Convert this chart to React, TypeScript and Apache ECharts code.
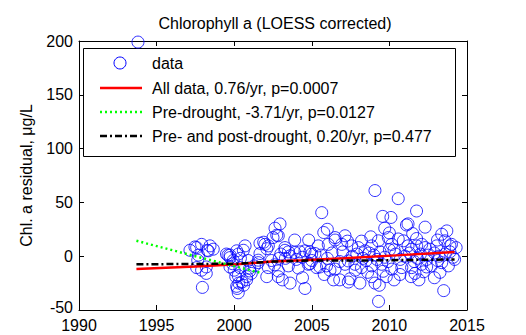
import React, { useEffect, useRef } from "react";
import * as echarts from "echarts";

const dataYears = [
  1993.8, 1997.15, 1997.47, 1997.58, 1997.65, 1997.7, 1997.9, 1997.9, 1997.95, 1997.58,
  1998.2, 1998.2, 1998.27, 1998.44, 1998.65, 1998.33, 1999.5, 1999.73, 1999.73, 1999.94,
  1999.6, 1999.73, 2000.16, 2000.0, 2000.1, 2000.26, 2000.16, 2000.26, 2000.3, 2000.2,
  2000.5, 2000.6, 2000.8, 2000.27, 2000.37, 2000.59, 2000.7, 2000.8, 2001.0, 2001.1,
  2001.0, 2001.55, 2001.55, 2001.66, 2001.66, 2001.9, 2001.98, 2002.1, 2002.1, 2002.2,
  2002.2, 2002.4, 2002.5, 2002.63, 2002.74, 2002.84, 2002.84, 2002.84, 2002.9, 2002.95,
  2003.27, 2003.27, 2003.3, 2003.49, 2003.49, 2003.6, 2003.6, 2003.9, 2003.9, 2004.13,
  2004.24, 2004.56, 2004.56, 2004.77, 2004.88, 2004.88, 2004.99, 2005.2, 2005.31, 2005.42,
  2005.52, 2005.64, 2005.77, 2005.95, 2006.06, 2006.17, 2006.4, 2006.5, 2006.5, 2006.5,
  2006.8, 2006.93, 2007.14, 2007.14, 2007.35, 2007.35, 2007.46, 2007.57, 2007.6, 2007.78,
  2008.0, 2008.1, 2008.2, 2008.3, 2008.43, 2008.8, 2008.86, 2008.86, 2008.86, 2009.0,
  2009.07, 2009.07, 2009.29, 2009.3, 2009.35, 2009.5, 2009.57, 2009.7, 2009.8, 2009.93,
  2010.0, 2010.1, 2010.15, 2010.15, 2010.4, 2010.57, 2010.57, 2010.68, 2010.8, 2010.9,
  2011.0, 2011.1, 2011.2, 2011.2, 2011.4, 2011.43, 2011.43, 2011.65, 2011.75, 2011.75,
  2011.76, 2011.8, 2012.08, 2012.08, 2012.2, 2012.3, 2012.5, 2012.6, 2012.7, 2013.05,
  2013.2, 2013.26, 2013.37, 2013.37, 2013.5, 2013.58, 2013.7, 2013.8, 2013.9, 2014.0,
  2014.1, 2014.3, 2004.0, 2004.4, 2005.0, 2005.6, 2006.0, 2006.3, 2006.8, 2007.0,
  2007.9, 2008.5, 2008.7, 2009.2, 2009.4, 2009.9, 2010.3, 2010.7, 2011.3, 2011.6,
  2012.0, 2012.4, 2012.9, 2013.1, 2013.6, 2014.2, 2003.0, 2002.6, 2001.3, 2000.9,
  1999.9, 2000.4, 2008.6, 2009.6, 2010.3, 2011.9, 2012.9, 2005.8, 2003.1, 2004.4,
  2007.8, 2012.4, 2013.9, 2010.0, 2011.5, 2012.3, 2013.1, 2009.7, 2008.2, 2007.3,
  2006.0, 2004.8,
];

const dataValues = [
  199, 5.5, 8.6, 8, -3.7, 1, 11, -13, -29, -10.6,
  -10, -16, 5.5, 9.6, 6.5, 5, 2, -1.3, 1, -4,
  1, -10, 5, -13, -19, -18, -28, -34, -25, -30,
  -24, -27, -19, 2, -10.6, 5.5, 9.6, -22, -13.7, -16,
  -11, -6, -3.7, 2.5, 12, 13, 11, 7, -19, 9.6,
  -10.6, -4, 17.3, 26, 19.5, 19, -13.7, -19, -2, 30,
  8, 5.5, -2, 4, -9, 0.3, -25, 3.4, 15, -11,
  4, 5, -30, -7.5, 4, -7, 2, 2.5, -10.6, 9.6,
  -10, 40.5, 22, -9, 11, -13, -22, 17.3, 15, -12,
  -22, 11, 19, -7.5, -4.4, -24, -21, 9.6, 0, -7.5,
  8, -25, -10.6, -2, 5, 18, 9.6, -9, -19, 1,
  61, -25, 14.3, -42, -27, -7.5, 37, -1, -19, 17.3,
  21.6, 36, 11, -12, 2, 16, 53.5, -17, -10.6, 14.3,
  0, 29, 30, 9.6, -19, 6.5, -10.6, -16, 42, 16.4,
  9.6, -2, 11, -7.5, -14.5, 8, 1, 6.5, -9, 9.6,
  0, -15, 20.4, -6, -32, 14.3, 23.5, -9, 9.6, 11,
  -1, 8, -3, -1, -4, 1, -2, 3, -5, 4,
  2, -4, 3, -3, 4, -5, 6, -3, 3, -5,
  2, -3, 3, -4, 2, -3, 2, -8, -9, -4,
  -7, -2, -15, -14, -22, -22, -20, -17, -22, -20,
  -13, -10, 4, 6, 21, 27, 15, 26, 14, 14,
  25, 15,
];

const allYears = [1993.7, 1997.5, 2000.2, 2002.4, 2004.4, 2007.1, 2010.7, 2014.2];
const allValues = [-12, -9.5, -7.5, -5, -3.8, -2, 1, 4];

const preYears = [1993.7, 1997.9, 2001.7];
const preValues = [14.3, -1.5, -15.5];

const prePostYears = [1993.7, 2000.2, 2002.5, 2005.0, 2008.0, 2014.2];
const prePostValues = [-7.5, -7, -5, -4, -4, -3];

const xTicks = [1990, 2015, 5];
const yTicks = [-50, 200, 50];

const legendLabels = [
  "data",
  "All data, 0.76/yr, p=0.0007",
  "Pre-drought, -3.71/yr, p=0.0127",
  "Pre- and post-drought, 0.20/yr, p=0.477",
];

const FONT = "'Liberation Sans', Arial, sans-serif";

export default function App() {
  const ref = useRef<HTMLDivElement>(null);
  useEffect(() => {
    if (!ref.current) return;
    const chart = echarts.init(ref.current, undefined, { renderer: "svg" });
    const pairs = (xs: number[], ys: number[]) => xs.map((x, i) => [x, ys[i]]);
    const tickStyle = { show: true, inside: true, length: 5, lineStyle: { color: "#000", width: 1 } };
    const axisLineStyle = { show: true, onZero: false, lineStyle: { color: "#000", width: 1 } };
    const legendTextStyle = { fill: "#000", fontSize: 16, fontFamily: FONT, verticalAlign: "middle" as const };
    const lx1 = 100, lx2 = 142, tx = 152;
    const rows = [63, 88, 112, 136];
    chart.setOption({
      animation: false,
      backgroundColor: "#fff",
      textStyle: { fontFamily: FONT },
      grid: { left: 79, right: 59, top: 41, bottom: 25, show: false },
      xAxis: [
        {
          type: "value", min: xTicks[0], max: xTicks[1], interval: xTicks[2],
          axisLine: axisLineStyle, axisTick: tickStyle, splitLine: { show: false },
          axisLabel: { color: "#000", fontSize: 16, fontFamily: FONT, margin: 7, formatter: (v: number) => String(v) },
        },
        {
          type: "value", position: "top", min: xTicks[0], max: xTicks[1], interval: xTicks[2],
          axisLine: axisLineStyle, axisTick: tickStyle, splitLine: { show: false },
          axisLabel: { show: false },
        },
      ],
      yAxis: [
        {
          type: "value", min: yTicks[0], max: yTicks[1], interval: yTicks[2],
          axisLine: axisLineStyle, axisTick: tickStyle, splitLine: { show: false },
          axisLabel: {
            color: "#000", fontSize: 16, fontFamily: FONT, margin: 6,
            formatter: (v: number) => (v === yTicks[0] ? "{low|" + v + "}" : String(v)),
            rich: { low: { fontSize: 16, fontFamily: FONT, color: "#000", padding: [0, 0, 6, 0] } },
          },
          name: "Chl. a residual, μg/L", nameLocation: "middle", nameGap: 45,
          nameTextStyle: { color: "#000", fontSize: 16, fontFamily: FONT },
        },
        {
          type: "value", position: "right", min: yTicks[0], max: yTicks[1], interval: yTicks[2],
          axisLine: axisLineStyle, axisTick: tickStyle, splitLine: { show: false },
          axisLabel: { show: false },
        },
      ],
      title: {
        text: "Chlorophyll a (LOESS corrected)",
        left: 270, top: 10, textAlign: "center",
        textStyle: { color: "#000", fontSize: 16, fontWeight: "normal", fontFamily: FONT },
      },
      series: [
        {
          name: legendLabels[0], type: "scatter", data: pairs(dataYears, dataValues),
          symbol: "circle", symbolSize: 12,
          itemStyle: { color: "rgba(0,0,0,0)", borderColor: "#0000ff", borderWidth: 1 },
          z: 2,
        },
        {
          name: legendLabels[1], type: "line", data: pairs(allYears, allValues), showSymbol: false,
          lineStyle: { color: "#ff0000", width: 2.5 }, z: 3,
        },
        {
          name: legendLabels[2], type: "line", data: pairs(preYears, preValues), showSymbol: false,
          lineStyle: { color: "#00ff00", width: 2.5, type: [2, 3] }, z: 3,
        },
        {
          name: legendLabels[3], type: "line", data: pairs(prePostYears, prePostValues), showSymbol: false,
          lineStyle: { color: "#000000", width: 2.5, type: [7, 3, 2, 3] }, z: 4,
        },
      ],
      graphic: [
        {
          type: "group", z: 100,
          children: [
            { type: "rect", shape: { x: 83.5, y: 48.5, width: 372, height: 108 }, style: { fill: "#fff", stroke: "#000", lineWidth: 1 } },
            { type: "circle", shape: { cx: 120, cy: rows[0], r: 6 }, style: { fill: "none", stroke: "#0000ff", lineWidth: 1 } },
            { type: "text", x: tx, y: rows[0], style: { ...legendTextStyle, text: legendLabels[0] } },
            { type: "line", shape: { x1: lx1, y1: rows[1], x2: lx2, y2: rows[1] }, style: { stroke: "#ff0000", lineWidth: 2.5 } },
            { type: "text", x: tx, y: rows[1], style: { ...legendTextStyle, text: legendLabels[1] } },
            { type: "line", shape: { x1: lx1, y1: rows[2], x2: lx2, y2: rows[2] }, style: { stroke: "#00ff00", lineWidth: 2.5, lineDash: [2, 3] } },
            { type: "text", x: tx, y: rows[2], style: { ...legendTextStyle, text: legendLabels[2] } },
            { type: "line", shape: { x1: lx1, y1: rows[3], x2: lx2, y2: rows[3] }, style: { stroke: "#000", lineWidth: 2.5, lineDash: [7, 3, 2, 3] } },
            { type: "text", x: tx, y: rows[3], style: { ...legendTextStyle, text: legendLabels[3] } },
          ],
        },
      ],
    });
    return () => chart.dispose();
  }, []);
  return <div ref={ref} style={{ width: 526, height: 335, position: "absolute", left: 0, top: 0 }} />;
}
